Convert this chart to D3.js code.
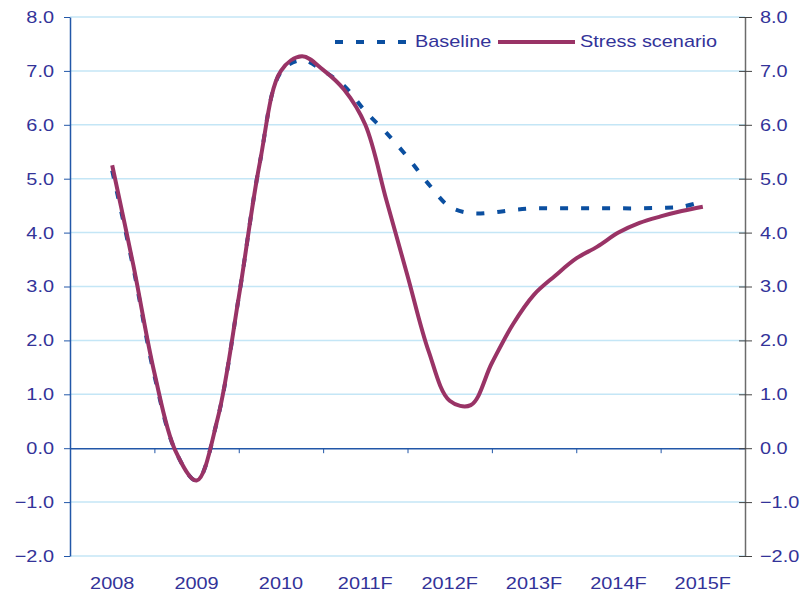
<!DOCTYPE html>
<html>
<head>
<meta charset="utf-8">
<script src="https://cdn.jsdelivr.net/npm/d3@7"></script>
<style>
  body { margin: 0; background: #fff; }
  text { font-family: "Liberation Sans", Arial, sans-serif; fill: #333399; }
</style>
</head>
<body>
<div id="chart"></div>
<script>
// Year categories on the x axis
var years = ["2008", "2009", "2010", "2011F", "2012F", "2013F", "2014F", "2015F"];
// Y axis tick values
var yTicks = [-2, -1, 0, 1, 2, 3, 4, 5, 6, 7, 8];
// Quarterly readings, from the middle of 2008 to the middle of 2015F
var baseline = [5.15, 3.35, 1.35, -0.05, -0.6, 0.55, 2.8, 5.3, 6.98, 7.2, 7.0, 6.72, 6.25,
                5.85, 5.4, 4.9, 4.48, 4.36, 4.37, 4.42, 4.45, 4.45, 4.45, 4.45, 4.45, 4.45,
                4.46, 4.48, 4.58];
var stress = [5.25, 3.4, 1.4, -0.05, -0.6, 0.55, 2.8, 5.3, 7.0, 7.27, 7.02, 6.65, 6.0,
              4.6, 3.2, 1.8, 0.88, 0.8, 1.58, 2.3, 2.85, 3.2, 3.52, 3.74, 4.0, 4.18,
              4.3, 4.4, 4.48];

var width = 800, height = 594;
var plotLeft = 70, plotRight = 745, plotTop = 17, plotBottom = 556;
var sx = 1.17; // the original text is a little wider than Arial

var svg = d3.select("#chart").append("svg")
    .attr("width", width)
    .attr("height", height);

var x = d3.scaleBand().domain(years).range([plotLeft, plotRight]);
var bw = x.bandwidth();
var xq = d3.scaleLinear().domain([0, baseline.length - 1])
    .range([x("2008") + bw / 2, x("2015F") + bw / 2]);
var y = d3.scaleLinear().domain([-2, 8]).range([plotBottom, plotTop]);

// gridlines
svg.append("g").selectAll("line")
    .data(yTicks.filter(function(d) { return d !== 0; }))
    .enter().append("line")
    .attr("x1", plotLeft).attr("x2", plotRight)
    .attr("y1", function(d) { return y(d); })
    .attr("y2", function(d) { return y(d); })
    .attr("stroke", "#c4e6f6")
    .attr("stroke-width", 1.5);

// zero line with ticks at the year boundaries
var xb = d3.scaleLinear().domain([0, years.length]).range([plotLeft, plotRight]);
var zeroAxis = svg.append("g")
    .attr("transform", "translate(0," + y(0) + ")")
    .call(d3.axisBottom(xb).tickValues(d3.range(1, years.length)).tickSizeInner(5).tickSizeOuter(0).tickFormat(""));
zeroAxis.select(".domain").attr("stroke", "#2257a8").attr("stroke-width", 1.5);
zeroAxis.selectAll(".tick line").attr("stroke", "#2257a8");

// year labels
var xAxis = svg.append("g")
    .attr("transform", "translate(0," + (plotBottom + 18) + ")")
    .call(d3.axisBottom(x).tickSize(0).tickPadding(0));
xAxis.select(".domain").remove();
xAxis.selectAll("text")
    .attr("y", 15)
    .attr("dy", null)
    .attr("font-size", 17)
    .attr("transform", "scale(" + sx + ",1)");

// left axis
var yLeft = svg.append("g")
    .attr("transform", "translate(" + plotLeft + ",0)")
    .call(d3.axisLeft(y).tickValues(yTicks).tickSizeInner(6).tickSizeOuter(0).tickPadding(0).tickFormat(d3.format(".1f")));
yLeft.select(".domain").attr("stroke", "#2257a8").attr("stroke-width", 1.5);
yLeft.selectAll(".tick line").attr("stroke", "#2257a8");
yLeft.selectAll("text")
    .attr("x", -16 / sx)
    .attr("font-size", 17)
    .attr("transform", "scale(" + sx + ",1)");

// right axis
var yRight = svg.append("g")
    .attr("transform", "translate(" + plotRight + ",0)")
    .call(d3.axisRight(y).tickValues(yTicks).tickSizeInner(7).tickSizeOuter(0).tickPadding(0).tickFormat(d3.format(".1f")));
yRight.select(".domain").attr("stroke", "#6b6b6b").attr("stroke-width", 1.5);
yRight.selectAll(".tick line").attr("x1", -6).attr("stroke", "#444");
yRight.selectAll("text")
    .attr("x", 15 / sx)
    .attr("font-size", 17)
    .attr("transform", "scale(" + sx + ",1)");

var line = d3.line()
    .x(function(d, i) { return xq(i); })
    .y(function(d) { return y(d); })
    .curve(d3.curveCatmullRom.alpha(0.5));

svg.append("path")
    .datum(baseline)
    .attr("d", line)
    .attr("fill", "none")
    .attr("stroke", "#0b4fa0")
    .attr("stroke-width", 4)
    .attr("stroke-dasharray", "8,13");

svg.append("path")
    .datum(stress)
    .attr("d", line)
    .attr("fill", "none")
    .attr("stroke", "#993366")
    .attr("stroke-width", 4)
    .attr("stroke-linejoin", "round");

// legend
var legend = svg.append("g");
legend.append("line")
    .attr("x1", 335).attr("x2", 409).attr("y1", 42).attr("y2", 42)
    .attr("stroke", "#0b4fa0").attr("stroke-width", 4).attr("stroke-dasharray", "8,13");
legend.append("text")
    .attr("transform", "translate(415,47) scale(" + sx + ",1)")
    .attr("font-size", 17)
    .text("Baseline");
legend.append("line")
    .attr("x1", 498).attr("x2", 575).attr("y1", 42).attr("y2", 42)
    .attr("stroke", "#993366").attr("stroke-width", 4);
legend.append("text")
    .attr("transform", "translate(580,47) scale(" + sx + ",1)")
    .attr("font-size", 17)
    .text("Stress scenario");
</script>
</body>
</html>
